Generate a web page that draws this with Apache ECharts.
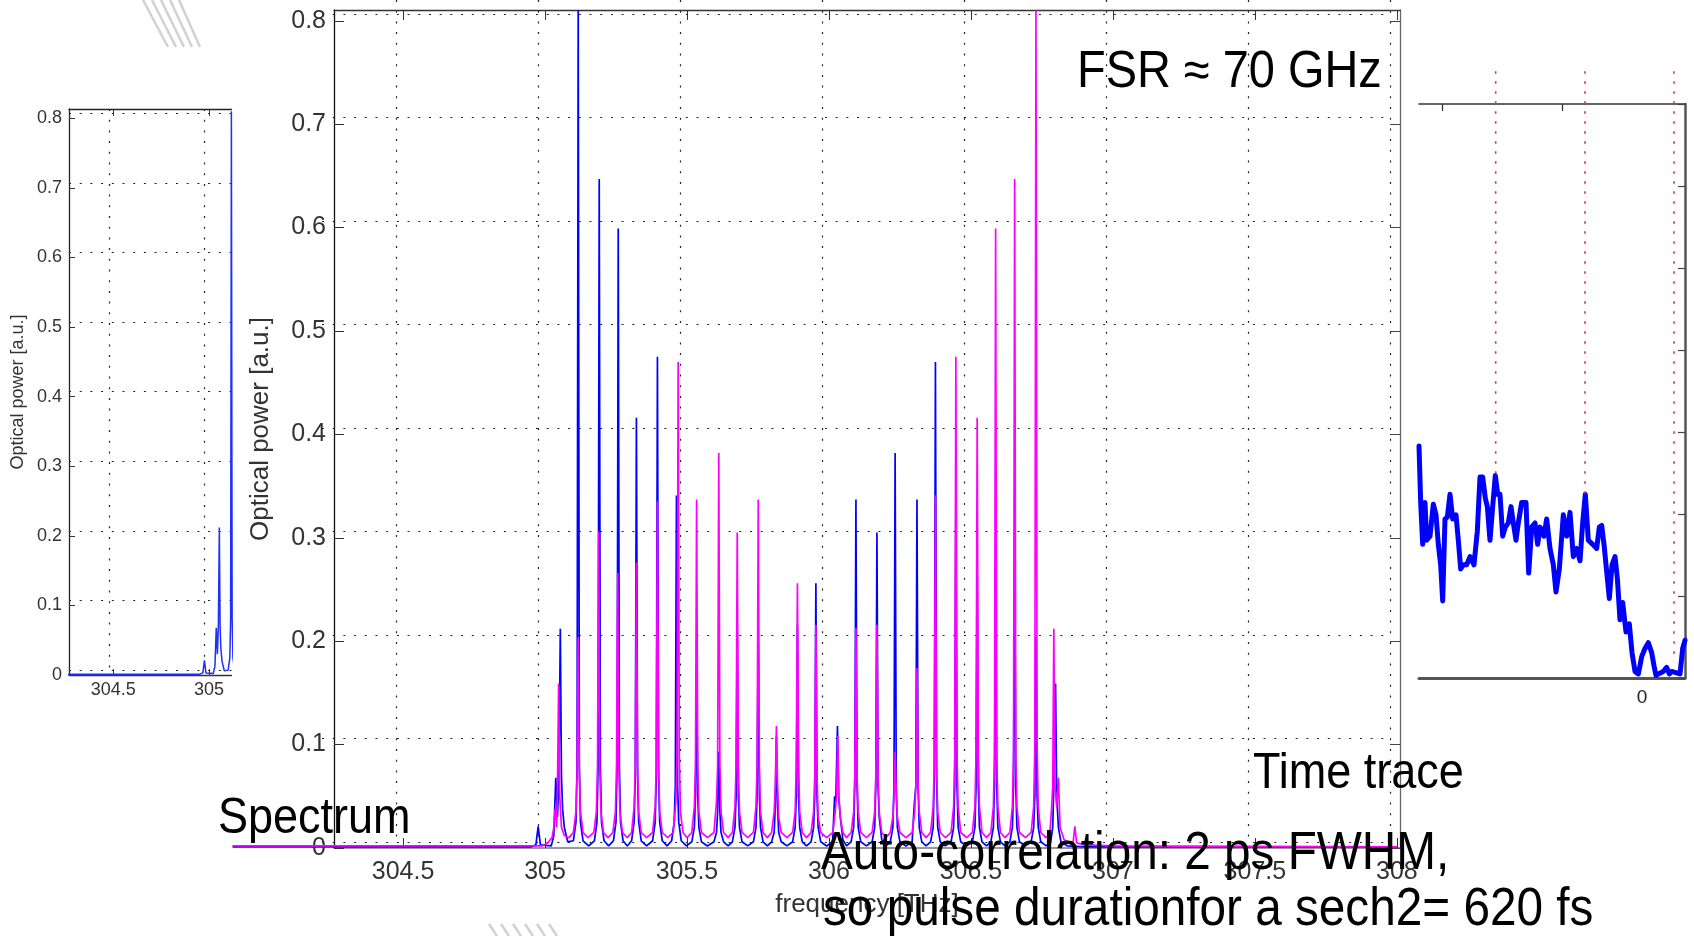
<!DOCTYPE html>
<html><head><meta charset="utf-8">
<script src="https://cdn.jsdelivr.net/npm/echarts@6/dist/echarts.min.js"></script>
<style>html,body{margin:0;padding:0;background:#fff}#c{width:1694px;height:936px}</style>
</head><body><div id="c"></div>
<script>
// ---------- tick labels ----------
const mainTicks = [304.5, 305, 305.5, 306, 306.5, 307, 307.5, 308];
const insetTicks = [304.5, 305];
const timeTopTicks = [-5, -2];
const timeLabels = [0];

// ---------- red marker lines of the time trace ----------
const markerX = [-3.658, -1.425, 0.8];
const markerEnd = [2.47, 2.24, 0.2];
const markerTop = 7.4;

// ---------- texts ----------
const fsrText = 'FSR ≈ 70 GHz';
const spectrumText = 'Spectrum';
const timeTraceText = 'Time trace';
const autoLine1 = 'Auto-correlation: 2 ps FWHM,';
const autoLine2 = 'so pulse durationfor a sech2= 620 fs';
const yName = 'Optical power [a.u.]';
const xName = 'frequency [THz]';

// ---------- spectrum (frequency THz, power a.u.) ----------
const blueSpectrum = [
 [303.90,0.001],[304.95,0.001],[304.968,0.003],[304.976,0.021],[304.984,0.003],
 [305.022,0.002],[305.031,0.012],[305.038,0.068],[305.044,0.03],[305.049,0.07],[305.054,0.212],[305.058,0.07],[305.062,0.038],[305.068,0.02],[305.080,0.006],
 [305.100,0.007],[305.109,0.025],[305.113,0.08],[305.117,0.81],[305.121,0.08],[305.125,0.025],[305.134,0.007],[305.154,0.002],
 [305.174,0.007],[305.183,0.025],[305.187,0.08],[305.191,0.647],[305.195,0.08],[305.199,0.025],[305.208,0.007],[305.224,0.002],
 [305.241,0.007],[305.250,0.025],[305.254,0.08],[305.258,0.599],[305.262,0.08],[305.266,0.025],[305.275,0.007],[305.290,0.002],
 [305.305,0.007],[305.314,0.025],[305.318,0.07],[305.322,0.416],[305.326,0.07],[305.330,0.025],[305.339,0.007],[305.358,0.002],
 [305.379,0.007],[305.388,0.025],[305.392,0.07],[305.396,0.475],[305.400,0.07],[305.404,0.025],[305.413,0.007],[305.430,0.002],
 [305.446,0.007],[305.455,0.025],[305.459,0.06],[305.463,0.341],[305.467,0.06],[305.471,0.025],[305.480,0.007],[305.498,0.002],
 [305.517,0.006],[305.526,0.02],[305.530,0.05],[305.534,0.174],[305.538,0.05],[305.542,0.02],[305.551,0.006],[305.572,0.002],
 [305.595,0.006],[305.604,0.015],[305.608,0.035],[305.612,0.093],[305.616,0.035],[305.620,0.015],[305.629,0.006],[305.645,0.002],
 [305.660,0.006],[305.669,0.02],[305.673,0.05],[305.677,0.216],[305.681,0.05],[305.685,0.02],[305.694,0.006],[305.714,0.002],
 [305.734,0.006],[305.743,0.02],[305.747,0.05],[305.751,0.213],[305.755,0.05],[305.759,0.02],[305.768,0.006],[305.783,0.002],
 [305.798,0.006],[305.807,0.015],[305.811,0.04],[305.815,0.108],[305.819,0.04],[305.823,0.015],[305.832,0.006],[305.852,0.002],
 [305.872,0.006],[305.881,0.02],[305.885,0.05],[305.889,0.216],[305.893,0.05],[305.897,0.02],[305.906,0.006],[305.921,0.002],
 [305.937,0.006],[305.946,0.02],[305.950,0.05],[305.954,0.256],[305.958,0.05],[305.962,0.02],[305.971,0.006],[305.992,0.002],
 [306.013,0.006],[306.020,0.05],[306.024,0.045],[306.030,0.118],[306.034,0.05],[306.040,0.03],[306.049,0.008],[306.062,0.002],
 [306.078,0.006],[306.087,0.02],[306.091,0.06],[306.095,0.337],[306.099,0.06],[306.103,0.02],[306.112,0.006],[306.132,0.002],
 [306.152,0.006],[306.161,0.02],[306.165,0.06],[306.169,0.305],[306.173,0.06],[306.177,0.03],[306.186,0.008],[306.201,0.002],
 [306.216,0.006],[306.225,0.02],[306.229,0.06],[306.233,0.382],[306.237,0.06],[306.241,0.02],[306.250,0.006],[306.271,0.002],
 [306.293,0.006],[306.300,0.04],[306.306,0.06],[306.310,0.337],[306.314,0.06],[306.318,0.02],[306.327,0.006],[306.342,0.002],
 [306.358,0.006],[306.367,0.02],[306.371,0.07],[306.375,0.470],[306.379,0.07],[306.383,0.02],[306.392,0.006],[306.410,0.002],
 [306.430,0.006],[306.439,0.02],[306.443,0.06],[306.447,0.335],[306.451,0.06],[306.455,0.02],[306.464,0.006],[306.485,0.002],
 [306.505,0.006],[306.514,0.02],[306.518,0.06],[306.522,0.276],[306.526,0.06],[306.530,0.02],[306.539,0.006],[306.555,0.002],
 [306.570,0.006],[306.579,0.02],[306.583,0.06],[306.587,0.266],[306.591,0.06],[306.595,0.02],[306.604,0.006],[306.620,0.002],
 [306.637,0.006],[306.646,0.02],[306.650,0.06],[306.654,0.306],[306.658,0.06],[306.662,0.02],[306.671,0.006],[306.692,0.002],
 [306.712,0.006],[306.721,0.02],[306.725,0.05],[306.729,0.204],[306.733,0.05],[306.737,0.02],[306.746,0.006],[306.765,0.002],
 [306.781,0.006],[306.788,0.02],[306.792,0.06],[306.798,0.159],[306.802,0.05],[306.808,0.02],[306.817,0.006],[306.840,0.002],
 [306.90,0.001],[308.0,0.001]
];
const magentaSpectrum = [
 [303.90,0.002],[304.99,0.002],[305.010,0.005],[305.025,0.01],[305.031,0.02],[305.036,0.038],[305.041,0.02],[305.044,0.06],[305.048,0.159],[305.052,0.05],[305.058,0.02],[305.068,0.012],[305.085,0.01],
 [305.100,0.015],[305.109,0.035],[305.113,0.07],[305.117,0.204],[305.121,0.07],[305.125,0.035],[305.134,0.015],[305.152,0.010],
 [305.172,0.015],[305.181,0.035],[305.185,0.08],[305.189,0.306],[305.193,0.08],[305.197,0.035],[305.206,0.015],[305.222,0.010],
 [305.239,0.015],[305.248,0.035],[305.252,0.08],[305.256,0.266],[305.260,0.08],[305.264,0.035],[305.273,0.015],[305.290,0.010],
 [305.305,0.015],[305.314,0.04],[305.318,0.08],[305.322,0.276],[305.326,0.08],[305.330,0.035],[305.339,0.015],[305.358,0.010],
 [305.379,0.015],[305.388,0.04],[305.392,0.08],[305.396,0.335],[305.400,0.08],[305.404,0.035],[305.413,0.015],[305.432,0.010],
 [305.452,0.015],[305.461,0.045],[305.465,0.09],[305.469,0.470],[305.473,0.09],[305.477,0.035],[305.486,0.015],[305.500,0.010],
 [305.517,0.015],[305.526,0.04],[305.530,0.08],[305.534,0.337],[305.538,0.08],[305.542,0.035],[305.551,0.015],[305.572,0.010],
 [305.595,0.015],[305.604,0.045],[305.608,0.08],[305.612,0.382],[305.616,0.08],[305.620,0.035],[305.629,0.015],[305.645,0.010],
 [305.660,0.015],[305.669,0.04],[305.673,0.08],[305.677,0.305],[305.681,0.08],[305.685,0.035],[305.694,0.015],[305.714,0.010],
 [305.734,0.015],[305.743,0.04],[305.747,0.08],[305.751,0.337],[305.755,0.08],[305.759,0.035],[305.768,0.015],[305.783,0.010],
 [305.798,0.015],[305.807,0.035],[305.811,0.06],[305.815,0.118],[305.819,0.06],[305.823,0.03],[305.832,0.015],[305.852,0.010],
 [305.872,0.015],[305.881,0.035],[305.885,0.08],[305.889,0.256],[305.893,0.08],[305.897,0.035],[305.906,0.015],[305.921,0.010],
 [305.937,0.015],[305.946,0.035],[305.950,0.07],[305.954,0.216],[305.958,0.07],[305.962,0.03],[305.971,0.015],[305.992,0.010],
 [306.014,0.015],[306.022,0.035],[306.027,0.05],[306.031,0.108],[306.035,0.05],[306.040,0.03],[306.049,0.015],[306.062,0.010],
 [306.078,0.015],[306.087,0.035],[306.091,0.07],[306.095,0.213],[306.099,0.07],[306.103,0.035],[306.112,0.015],[306.132,0.010],
 [306.152,0.015],[306.161,0.035],[306.165,0.07],[306.169,0.216],[306.173,0.07],[306.177,0.035],[306.186,0.015],[306.201,0.010],
 [306.216,0.015],[306.225,0.03],[306.229,0.05],[306.233,0.093],[306.237,0.05],[306.241,0.03],[306.250,0.015],[306.271,0.010],
 [306.293,0.015],[306.302,0.035],[306.306,0.06],[306.310,0.174],[306.314,0.06],[306.318,0.035],[306.327,0.015],[306.342,0.010],
 [306.358,0.015],[306.367,0.04],[306.371,0.08],[306.375,0.341],[306.379,0.08],[306.383,0.035],[306.392,0.015],[306.410,0.010],
 [306.430,0.015],[306.439,0.04],[306.443,0.09],[306.447,0.475],[306.451,0.09],[306.455,0.04],[306.464,0.015],[306.485,0.010],
 [306.505,0.015],[306.514,0.04],[306.518,0.09],[306.522,0.416],[306.526,0.09],[306.530,0.04],[306.539,0.015],[306.555,0.010],
 [306.570,0.015],[306.579,0.04],[306.583,0.09],[306.587,0.599],[306.591,0.09],[306.595,0.04],[306.604,0.015],[306.620,0.010],
 [306.637,0.015],[306.646,0.04],[306.650,0.09],[306.654,0.647],[306.658,0.09],[306.662,0.04],[306.671,0.015],[306.692,0.010],
 [306.712,0.015],[306.721,0.04],[306.725,0.1],[306.729,0.81],[306.733,0.1],[306.737,0.04],[306.746,0.015],[306.765,0.010],
 [306.778,0.015],[306.784,0.038],[306.788,0.06],[306.792,0.212],[306.796,0.06],[306.802,0.04],[306.808,0.068],[306.814,0.02],[306.828,0.008],
 [306.850,0.005],[306.860,0.006],[306.866,0.021],[306.872,0.005],[306.90,0.003],[307.0,0.002],[308.0,0.001]
];

// ---------- time trace (time, a.u.) ----------
const timeTrace = [
 [-5.575,2.83],[-5.533,2.14],[-5.483,1.63],[-5.425,2.14],[-5.383,1.68],[-5.3,1.73],[-5.217,2.12],[-5.15,1.99],[-5.092,1.63],[-5.033,1.38],[-4.983,0.94],[-4.925,1.94],[-4.867,1.96],[-4.8,2.24],[-4.733,1.94],[-4.65,1.99],[-4.592,1.68],[-4.533,1.33],[-4.467,1.38],[-4.383,1.38],[-4.3,1.48],[-4.2,1.38],[-4.117,1.79],[-4.05,2.45],[-3.983,2.45],[-3.917,2.19],[-3.867,2.09],[-3.8,1.68],[-3.733,2.09],[-3.667,2.47],[-3.608,2.24],[-3.55,2.24],[-3.483,1.73],[-3.417,1.84],[-3.342,1.89],[-3.275,2.09],[-3.217,1.89],[-3.15,1.68],[-3.092,1.89],[-3.008,2.14],[-2.9,2.14],[-2.833,1.28],[-2.758,1.84],[-2.675,1.89],[-2.608,1.63],[-2.55,1.84],[-2.45,1.73],[-2.383,1.94],[-2.3,1.58],[-2.217,1.38],[-2.15,1.05],[-2.067,1.33],[-1.967,1.99],[-1.883,1.73],[-1.8,2.02],[-1.717,1.48],[-1.633,1.58],[-1.55,1.43],[-1.483,1.89],[-1.417,2.24],[-1.342,1.68],[-1.233,1.63],[-1.133,1.58],[-1.067,1.84],[-1.008,1.86],[-0.95,1.63],[-0.867,1.22],[-0.817,0.97],[-0.75,1.38],[-0.675,1.48],[-0.617,1.22],[-0.55,0.71],[-0.483,0.92],[-0.4,0.56],[-0.317,0.66],[-0.25,0.31],[-0.175,0.08],[-0.092,0.05],[-0.008,0.26],[0.075,0.36],[0.158,0.43],[0.242,0.31],[0.3,0.15],[0.35,0.03],[0.408,0.05],[0.533,0.08],[0.617,0.13],[0.683,0.05],[0.742,0.08],[0.95,0.05],[1.017,0.36],[1.075,0.46]
];

const FF = 'Liberation Sans';
const chart = echarts.init(document.getElementById('c'), null, {renderer: 'canvas'});

const hidden = {axisLine:{show:false}, axisTick:{show:false}, axisLabel:{show:false}, splitLine:{show:false}};
const gridSplit = {show:true, showMinLine:false, showMaxLine:false, lineStyle:{color:'#222', type:[2, 8.7], width:1.2}};

const markerSeries = markerX.map((x, i) => ({
  type:'line', xAxisIndex:6, yAxisIndex:5, clip:false, symbol:'none', silent:true, z:4,
  data:[[x, markerTop], [x, markerEnd[i]]],
  lineStyle:{color:'#ee3030', width:1.6, type:[2.5, 7.5]}
}));

function bigText(x, y, text, size, sx) {
  return {type:'text', x:x, y:y, scaleX:sx, z:100,
    style:{text:text, fill:'#000', fontSize:size, fontFamily:FF, verticalAlign:'middle', align:'left'}};
}
const hatch = [];
[0,1,2,3,4].forEach(k => hatch.push({type:'line', z:1, shape:{x1:143+9*k, y1:0, x2:168+8*k, y2:47}, style:{stroke:'#d2d2d2', lineWidth:2.5}}));
[0,1,2,3,4,5].forEach(k => hatch.push({type:'line', z:1, shape:{x1:489+12*k, y1:924, x2:497+12*k, y2:936}, style:{stroke:'#d2d2d2', lineWidth:2.5}}));

const option = {
  animation:false,
  backgroundColor:'#fff',
  grid:[
    {left:334, top:10, width:1066, height:838, outerBoundsMode:'none'},
    {left:322, top:0, width:1070, height:842, outerBoundsMode:'none'},
    {left:69, top:109, width:162.5, height:566, outerBoundsMode:'none'},
    {left:69, top:109, width:162.5, height:561, outerBoundsMode:'none'},
    {left:1419, top:104, width:266, height:574, outerBoundsMode:'none'},
    {left:232, top:10, width:102, height:839, outerBoundsMode:'none'}
  ],
  xAxis:[
    {gridIndex:0, type:'value', min:304.257, max:308.011, position:'bottom',
     axisLine:{show:true, onZero:false, lineStyle:{color:'#777', width:1.5}},
     axisTick:{show:true, inside:true, length:10, customValues:mainTicks, lineStyle:{color:'#333'}},
     axisLabel:{show:true, customValues:mainTicks, fontSize:25, margin:12, color:'#333', fontFamily:FF},
     splitLine:{show:false},
     name:xName, nameLocation:'middle', nameGap:44, nameTextStyle:{fontSize:26, color:'#333', fontFamily:FF}},
    {gridIndex:0, type:'value', min:304.257, max:308.011, position:'top',
     axisLine:{show:true, onZero:false, lineStyle:{color:'#333', width:1.3}},
     axisTick:{show:true, inside:true, length:10, customValues:mainTicks, lineStyle:{color:'#333'}},
     axisLabel:{show:false}, splitLine:{show:false}},
    Object.assign({gridIndex:1, type:'value', min:304.2394, max:308.007, splitNumber:8}, hidden, {splitLine:gridSplit}),
    {gridIndex:2, type:'value', min:304.2686, max:305.1176, position:'bottom',
     axisLine:{show:true, onZero:false, lineStyle:{color:'#333', width:1.3}},
     axisTick:{show:true, inside:true, length:6, customValues:insetTicks, lineStyle:{color:'#333'}},
     axisLabel:{show:true, customValues:insetTicks, fontSize:18, margin:6, color:'#333', fontFamily:FF},
     splitLine:{show:false}},
    {gridIndex:2, type:'value', min:304.2686, max:305.1176, position:'top',
     axisLine:{show:true, onZero:false, lineStyle:{color:'#222', width:1.3}},
     axisTick:{show:true, inside:true, length:7, customValues:insetTicks, lineStyle:{color:'#333'}},
     axisLabel:{show:false}, splitLine:{show:false}},
    Object.assign({gridIndex:3, type:'value', min:304.291, max:305.140, splitNumber:2}, hidden, {splitLine:gridSplit}),
    {gridIndex:4, type:'value', min:-5.575, max:1.075, position:'bottom',
     axisLine:{show:true, onZero:false, lineStyle:{color:'#555', width:3}},
     axisTick:{show:false},
     axisLabel:{show:true, customValues:timeLabels, fontSize:19, margin:10, color:'#222', fontFamily:FF},
     splitLine:{show:false}},
    {gridIndex:4, type:'value', min:-5.575, max:1.075, position:'top',
     axisLine:{show:true, onZero:false, lineStyle:{color:'#333', width:1.6}},
     axisTick:{show:true, inside:true, length:7, customValues:timeTopTicks, lineStyle:{color:'#333', width:1.3}},
     axisLabel:{show:false}, splitLine:{show:false}},
    Object.assign({gridIndex:5, type:'value', min:303.898, max:304.257}, hidden)
  ],
  yAxis:[
    {gridIndex:0, type:'value', min:0, max:0.8104, interval:0.1, position:'left',
     axisLine:{show:true, onZero:false, lineStyle:{color:'#111', width:1.3}},
     axisTick:{show:true, inside:true, length:10, lineStyle:{color:'#333'}},
     axisLabel:{show:true, fontSize:25, margin:8, color:'#333', fontFamily:FF, showMaxLabel:false},
     splitLine:{show:false},
     name:yName, nameLocation:'middle', nameGap:60, nameRotate:90, nameTextStyle:{fontSize:26, color:'#333', fontFamily:FF}},
    {gridIndex:0, type:'value', min:0, max:0.8104, interval:0.1, position:'right',
     axisLine:{show:true, onZero:false, lineStyle:{color:'#666', width:1.3}},
     axisTick:{show:true, inside:true, length:10, lineStyle:{color:'#444'}},
     axisLabel:{show:false}, splitLine:{show:false}},
    Object.assign({gridIndex:1, type:'value', min:0, max:0.8135, splitNumber:8}, hidden, {splitLine:Object.assign({}, gridSplit, {showMinLine:true})}),
    {gridIndex:2, type:'value', min:0, max:0.8132, interval:0.1, position:'left',
     axisLine:{show:true, onZero:false, lineStyle:{color:'#222', width:1.3}},
     axisTick:{show:true, inside:true, length:6, lineStyle:{color:'#333'}},
     axisLabel:{show:true, fontSize:18, margin:7, color:'#333', fontFamily:FF, showMaxLabel:false},
     splitLine:{show:false},
     name:yName, nameLocation:'middle', nameGap:42, nameRotate:90, nameTextStyle:{fontSize:18, color:'#333', fontFamily:FF}},
    Object.assign({gridIndex:3, type:'value', min:0, max:0.806, splitNumber:8}, hidden, {splitLine:Object.assign({}, gridSplit, {showMinLine:true})}),
    {gridIndex:4, type:'value', min:0, max:7, interval:1, position:'right',
     axisLine:{show:true, onZero:false, lineStyle:{color:'#555', width:2.5}},
     axisTick:{show:true, inside:true, length:7, lineStyle:{color:'#444', width:1.2}},
     axisLabel:{show:false}, splitLine:{show:false}},
    Object.assign({gridIndex:5, type:'value', min:-0.001, max:0.8094}, hidden)
  ],
  series:[
    {type:'line', name:'blue', xAxisIndex:0, yAxisIndex:0, clip:false, showSymbol:false, symbol:'none', z:3,
     data:blueSpectrum, lineStyle:{color:'#0000ff', width:1.7}},
    {type:'line', name:'magenta', xAxisIndex:0, yAxisIndex:0, clip:false, showSymbol:false, symbol:'none', z:3,
     data:magentaSpectrum, lineStyle:{color:'#ff00ff', width:1.7}},
    {type:'line', name:'blue left', xAxisIndex:8, yAxisIndex:6, clip:true, showSymbol:false, symbol:'none', z:3,
     data:blueSpectrum, lineStyle:{color:'#0000ff', width:1.7}},
    {type:'line', name:'magenta left', xAxisIndex:8, yAxisIndex:6, clip:true, showSymbol:false, symbol:'none', z:3,
     data:magentaSpectrum, lineStyle:{color:'#ff00ff', width:1.7}},
    {type:'line', name:'blue inset', xAxisIndex:3, yAxisIndex:3, clip:true, showSymbol:false, symbol:'none', z:3,
     data:blueSpectrum, lineStyle:{color:'#1f2fff', width:1.5}},
    {type:'line', name:'time trace', xAxisIndex:6, yAxisIndex:5, clip:true, showSymbol:false, symbol:'none', z:3,
     data:timeTrace, lineStyle:{color:'#0000ff', width:5, join:'round', cap:'round'}}
  ].concat(markerSeries),
  graphic:[].concat(hatch, [
    bigText(1077, 73, fsrText, 51, 0.92),
    bigText(218, 819, spectrumText, 50, 0.9),
    bigText(1253, 774, timeTraceText, 50, 0.9),
    bigText(821, 854, autoLine1, 53, 0.9),
    bigText(823, 910, autoLine2, 53, 0.9)
  ])
};
chart.setOption(option);
</script></body></html>
